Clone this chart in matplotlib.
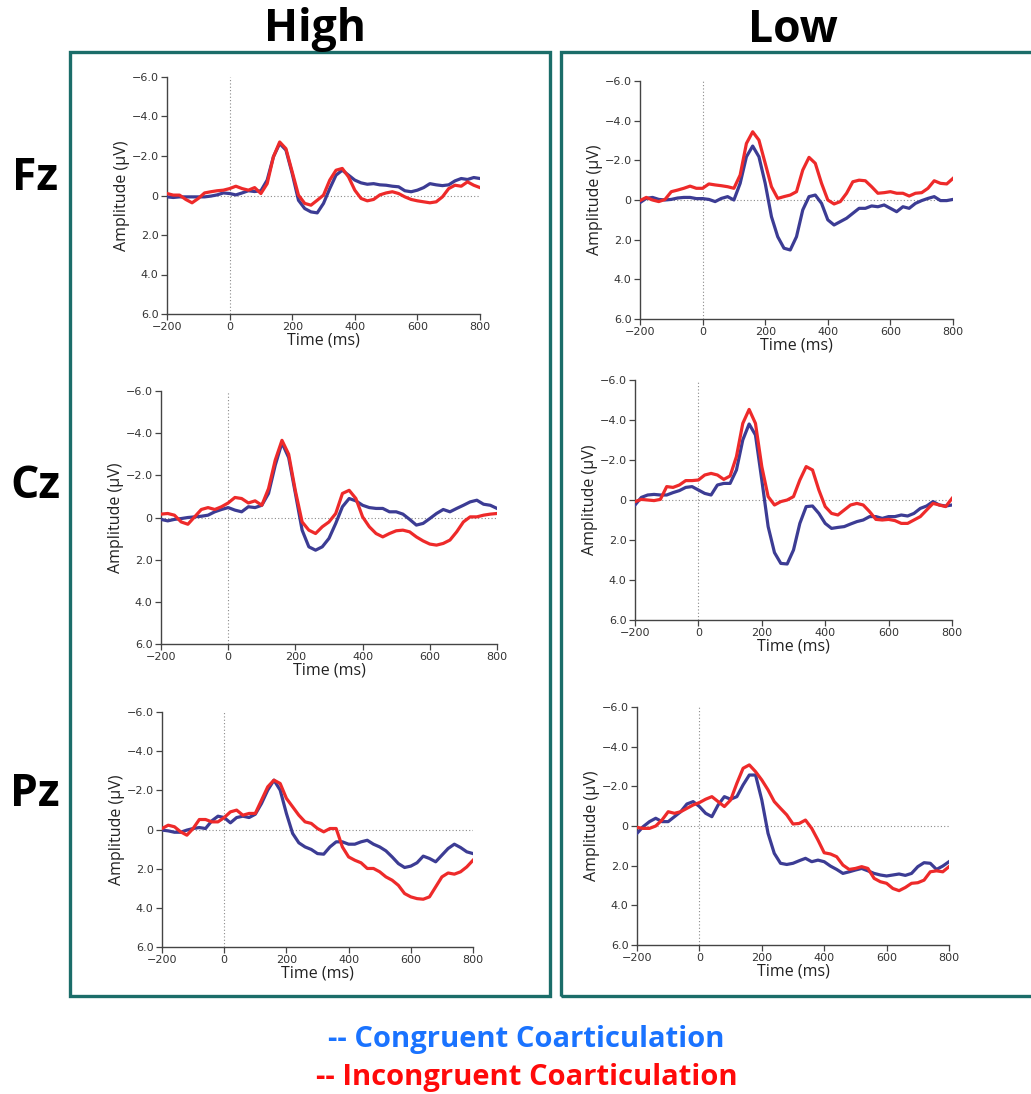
import matplotlib
matplotlib.use("Agg")
import matplotlib.pyplot as plt
from matplotlib.patches import Rectangle

# time axis (ms), sampled every 20 ms
time_ms = list(range(-200, 801, 20))

# amplitudes in microvolts (negative plotted upward)
high_fz_cong = [0.07, 0.1, 0.07, 0.07, 0.07, 0.07, 0.07, 0.03, -0.03, -0.13, -0.1, -0.03, -0.13, -0.24, -0.2, -0.24,
                -0.78, -1.96, -2.63, -2.3, -1.11, 0.24, 0.66, 0.83, 0.88, 0.4, -0.35, -1.03, -1.28, -1.03, -0.78,
                -0.64, -0.57, -0.6, -0.54, -0.52, -0.47, -0.44, -0.24, -0.19, -0.27, -0.4, -0.6, -0.54, -0.5, -0.54,
                -0.74, -0.86, -0.81, -0.91, -0.86]
high_fz_incong = [-0.1, -0.02, -0.02, 0.2, 0.37, 0.15, -0.13, -0.19, -0.24, -0.27, -0.35, -0.47, -0.35, -0.27, -0.4,
                  -0.1, -0.6, -1.96, -2.71, -2.37, -1.2, -0.02, 0.4, 0.49, 0.24, -0.02, -0.78, -1.28, -1.37, -0.94,
                  -0.27, 0.15, 0.27, 0.2, -0.03, -0.13, -0.19, -0.1, 0.07, 0.2, 0.27, 0.32, 0.37, 0.32, 0.07, -0.35,
                  -0.52, -0.47, -0.69, -0.52, -0.4]

low_fz_cong = [0.13, -0.08, -0.13, -0.03, 0.0, -0.03, -0.1, -0.13, -0.13, -0.07, -0.07, -0.03, 0.08, -0.08, -0.17, 0.0,
               -0.84, -2.18, -2.72, -2.18, -0.84, 0.84, 1.85, 2.43, 2.52, 1.85, 0.5, -0.17, -0.25, 0.17, 1.0, 1.26,
               1.09, 0.92, 0.67, 0.42, 0.42, 0.3, 0.34, 0.25, 0.42, 0.59, 0.34, 0.42, 0.17, 0.03, -0.08, -0.17, 0.03,
               0.03, -0.03]
low_fz_incong = [0.03, -0.13, 0.0, 0.08, -0.03, -0.42, -0.5, -0.59, -0.7, -0.59, -0.59, -0.81, -0.76, -0.72, -0.67,
                 -0.59, -1.26, -2.85, -3.44, -3.02, -1.85, -0.67, -0.08, -0.17, -0.25, -0.42, -1.51, -2.15, -1.85,
                 -0.84, 0.0, 0.2, 0.08, -0.34, -0.92, -1.0, -0.97, -0.67, -0.34, -0.37, -0.42, -0.34, -0.34, -0.2,
                 -0.34, -0.37, -0.59, -0.97, -0.84, -0.81, -1.09]

high_cz_cong = [0.09, 0.16, 0.09, 0.05, 0.0, -0.03, -0.06, -0.11, -0.27, -0.38, -0.47, -0.35, -0.27, -0.51, -0.47,
                -0.58, -1.14, -2.48, -3.54, -2.84, -1.14, 0.6, 1.39, 1.55, 1.39, 0.99, 0.28, -0.51, -0.9, -0.79,
                -0.58, -0.47, -0.43, -0.43, -0.27, -0.27, -0.16, 0.09, 0.36, 0.28, 0.05, -0.19, -0.38, -0.27, -0.43,
                -0.58, -0.74, -0.82, -0.63, -0.58, -0.43]
high_cz_incong = [-0.16, -0.19, -0.11, 0.21, 0.32, -0.03, -0.38, -0.47, -0.38, -0.51, -0.69, -0.95, -0.9, -0.69,
                  -0.79, -0.58, -1.37, -2.72, -3.66, -3.0, -1.26, 0.21, 0.6, 0.76, 0.44, 0.21, -0.19, -1.14, -1.29,
                  -0.9, -0.03, 0.44, 0.76, 0.92, 0.76, 0.63, 0.6, 0.68, 0.92, 1.11, 1.26, 1.31, 1.23, 1.07, 0.68,
                  0.21, -0.03, -0.03, -0.11, -0.16, -0.19]

low_cz_cong = [0.25, -0.13, -0.25, -0.28, -0.25, -0.25, -0.37, -0.47, -0.63, -0.67, -0.5, -0.33, -0.25, -0.75, -0.83,
               -0.83, -1.5, -3.0, -3.8, -3.25, -1.0, 1.33, 2.63, 3.17, 3.2, 2.5, 1.17, 0.33, 0.3, 0.67, 1.17, 1.42,
               1.37, 1.33, 1.2, 1.08, 1.0, 0.83, 0.83, 0.92, 0.83, 0.83, 0.75, 0.8, 0.67, 0.42, 0.3, 0.08, 0.25, 0.3,
               0.25]
low_cz_incong = [0.08, -0.03, 0.0, 0.03, -0.03, -0.67, -0.63, -0.75, -0.97, -0.97, -1.0, -1.25, -1.33, -1.25, -1.03,
                 -1.2, -2.17, -3.83, -4.53, -3.83, -1.67, -0.17, 0.25, 0.08, 0.0, -0.17, -1.0, -1.67, -1.5, -0.5, 0.33,
                 0.67, 0.75, 0.5, 0.25, 0.17, 0.25, 0.58, 0.97, 1.0, 0.97, 1.03, 1.17, 1.17, 1.0, 0.83, 0.5, 0.17,
                 0.25, 0.33, -0.08]

high_pz_cong = [0.03, 0.07, 0.14, 0.14, 0.03, -0.05, -0.1, -0.05, -0.44, -0.68, -0.61, -0.34, -0.61, -0.68, -0.61,
                -0.78, -1.33, -2.01, -2.52, -2.01, -0.82, 0.2, 0.68, 0.89, 1.02, 1.23, 1.26, 0.89, 0.63, 0.63, 0.75,
                0.75, 0.63, 0.55, 0.75, 0.89, 1.09, 1.4, 1.74, 1.94, 1.87, 1.7, 1.36, 1.48, 1.65, 1.31, 0.97, 0.75,
                0.92, 1.14, 1.23]
high_pz_incong = [-0.05, -0.22, -0.14, 0.12, 0.29, -0.05, -0.51, -0.51, -0.39, -0.39, -0.61, -0.9, -0.99, -0.73,
                  -0.82, -0.82, -1.5, -2.18, -2.52, -2.35, -1.59, -1.16, -0.73, -0.39, -0.31, -0.05, 0.12, -0.05,
                  -0.05, 0.89, 1.4, 1.57, 1.7, 1.99, 1.99, 2.16, 2.42, 2.59, 2.85, 3.27, 3.44, 3.53, 3.56, 3.44, 2.93,
                  2.42, 2.22, 2.28, 2.16, 1.91, 1.57]

low_pz_cong = [0.37, 0.03, -0.22, -0.39, -0.22, -0.22, -0.47, -0.72, -1.11, -1.23, -0.98, -0.64, -0.47, -1.06, -1.48,
               -1.35, -1.48, -2.07, -2.57, -2.57, -1.31, 0.37, 1.38, 1.88, 1.94, 1.88, 1.75, 1.63, 1.8, 1.72, 1.8,
               2.02, 2.19, 2.39, 2.31, 2.22, 2.14, 2.26, 2.39, 2.47, 2.52, 2.47, 2.42, 2.49, 2.39, 2.05, 1.85, 1.88,
               2.19, 2.02, 1.8]
low_pz_incong = [0.07, 0.12, 0.12, 0.0, -0.3, -0.72, -0.64, -0.72, -0.89, -1.06, -1.18, -1.35, -1.48, -1.23, -0.98,
                 -1.31, -2.15, -2.91, -3.08, -2.74, -2.32, -1.82, -1.23, -0.89, -0.56, -0.1, -0.13, -0.3, 0.12, 0.71,
                 1.35, 1.41, 1.55, 1.97, 2.19, 2.14, 2.05, 2.14, 2.64, 2.81, 2.89, 3.15, 3.26, 3.1, 2.89, 2.86, 2.73,
                 2.31, 2.26, 2.31, 2.05]

x_ticks = [-200, 0, 200, 400, 600, 800]
x_labels = ["\u2212200", "0", "200", "400", "600", "800"]
y_ticks = [-6, -4, -2, 0, 2, 4, 6]
y_labels = ["\u22126.0", "\u22124.0", "\u22122.0", "0", "2.0", "4.0", "6.0"]

W, H = 1031, 1094
fig = plt.figure(figsize=(W / 100, H / 100), dpi=100)
fig.patch.set_facecolor("white")

CONG = "#3c3c94"
INCONG = "#ee2a2a"
TEAL = "#1b6d69"


def rect(x0, x1, ytop, ybot):
    return [x0 / W, 1 - ybot / H, (x1 - x0) / W, (ybot - ytop) / H]


panels = [
    (rect(167, 480, 77, 314), high_fz_cong, high_fz_incong),
    (rect(640, 953, 81, 319), low_fz_cong, low_fz_incong),
    (rect(161, 497, 391, 644), high_cz_cong, high_cz_incong),
    (rect(635, 952, 380, 620), low_cz_cong, low_cz_incong),
    (rect(162, 473, 712, 947), high_pz_cong, high_pz_incong),
    (rect(637, 949, 707, 945), low_pz_cong, low_pz_incong),
]

for pos, cong, incong in panels:
    ax = fig.add_axes(pos)
    ax.set_facecolor("none")
    ax.axhline(0, color="#8a8a8a", lw=0.8, ls=(0, (1, 2)), zorder=1)
    ax.axvline(0, color="#8a8a8a", lw=0.8, ls=(0, (1, 2)), zorder=1)
    ax.plot(time_ms, cong, color=CONG, lw=2.3, zorder=3, solid_joinstyle="round")
    ax.plot(time_ms, incong, color=INCONG, lw=2.3, zorder=4, solid_joinstyle="round")
    ax.set_xlim(-200, 800)
    ax.set_ylim(6, -6)
    ax.set_xticks(x_ticks)
    ax.set_xticklabels(x_labels)
    ax.set_yticks(y_ticks)
    ax.set_yticklabels(y_labels)
    for s in ["top", "right"]:
        ax.spines[s].set_visible(False)
    for s in ["left", "bottom"]:
        ax.spines[s].set_color("#444444")
        ax.spines[s].set_linewidth(1.0)
    ax.tick_params(length=4.5, width=0.9, color="#444444", labelsize=8,
                   labelcolor="#333333", pad=1.5)
    ax.set_xlabel("Time (ms)", fontsize=11.5, color="#222222", labelpad=0, family="Open Sans")
    ax.set_ylabel("Amplitude (\u00b5V)", fontsize=11.5, color="#222222", labelpad=1, family="Open Sans")

# teal frames around the two columns
fig.patches.append(Rectangle((70 / W, 1 - 996 / H), 480 / W, 944 / H, transform=fig.transFigure,
                             fill=False, edgecolor=TEAL, lw=2.4))
fig.patches.append(Rectangle((561 / W, 1 - 996 / H), 480 / W, 944 / H, transform=fig.transFigure,
                             fill=False, edgecolor=TEAL, lw=2.4))

fig.text(315 / W, 1 - 30 / H, "High", ha="center", va="center", fontsize=32, fontweight="bold",
         family="Open Sans")
fig.text(793 / W, 1 - 30 / H, "Low", ha="center", va="center", fontsize=32, fontweight="bold",
         family="Open Sans")
for label, yy in [("Fz", 178), ("Cz", 487), ("Pz", 795)]:
    fig.text(35 / W, 1 - yy / H, label, ha="center", va="center", fontsize=32, fontweight="bold",
             family="Open Sans")

fig.text(526 / W, 1 - 1040 / H, "-- Congruent Coarticulation", ha="center", va="center", fontsize=21,
         fontweight="bold", color="#1a73ff", family="Open Sans")
fig.text(527 / W, 1 - 1078 / H, "-- Incongruent Coarticulation", ha="center", va="center", fontsize=21,
         fontweight="bold", color="#ff0a0a", family="Open Sans")

fig.savefig("out.png", dpi=100)
